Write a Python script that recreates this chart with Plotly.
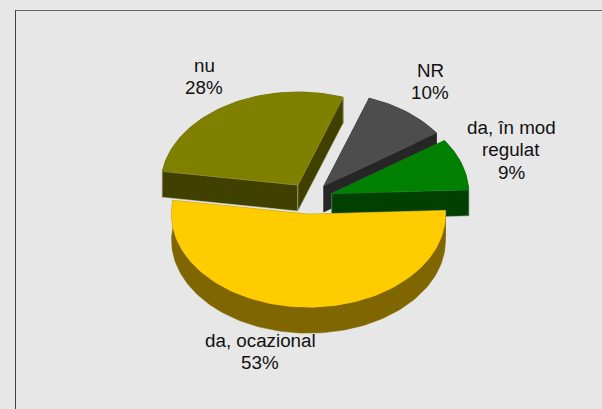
import math
import plotly.graph_objects as go

# Data, in drawing order round the pie (clockwise)
categories = ["nu", "NR", "da, în mod<br>regulat", "da, ocazional"]
percent = [28, 10, 9, 53]
top_colors = ["#808000", "#4D4D4D", "#008000", "#FFCC00"]
side_colors = ["#404000", "#262626", "#004000", "#806600"]
edge_colors = ["#C4C4A0", "#262626", "#6E8F6E", "#806600"]
label_x = [204, 430, 511, 260]
label_y = [65, 70, 127, 340]

# Pie geometry in pixels of the 602x409 page
W, H = 602, 409
CX, CY = 309.8, 198.5
RX, RY = 137.0, 93.0
DEPTH = 26
EXPLODE = 0.169
START_ANGLE = 171.5
LINE_STEP = 22.5
BG = "#E7E7E7"


def arc_points(a0, a1, cx, cy):
    n = max(4, int(abs(a1 - a0) / 1.5))
    out = []
    for i in range(n + 1):
        a = math.radians(a0 + (a1 - a0) * i / n)
        out.append((cx + RX * math.cos(a), cy - RY * math.sin(a)))
    return out


def polygon(fig, pts, color, line_color=None, **kw):
    closed = list(pts) + [pts[0]]
    fig.add_trace(go.Scatter(x=[p[0] for p in closed], y=[p[1] for p in closed],
                             mode="lines", fill="toself", fillcolor=color,
                             line=dict(color=line_color or color, width=0.5),
                             showlegend=False, **kw))


fig = go.Figure()
total = sum(percent)
angle = START_ANGLE
for cat, val, ct, cs, ce in zip(categories, percent, top_colors, side_colors, edge_colors):
    sweep = 360.0 * val / total
    a0, a1 = angle, angle - sweep
    angle = a1
    mid = math.radians((a0 + a1) / 2)
    cx = CX + EXPLODE * RX * math.cos(mid)
    cy = CY - EXPLODE * RY * math.sin(mid)
    arc = arc_points(a0, a1, cx, cy)
    shifted = [(x, y + DEPTH) for x, y in arc]
    # walls: outer rim and the two radial faces
    polygon(fig, arc + shifted[::-1], cs, hoverinfo="skip")
    for end in (arc[0], arc[-1]):
        polygon(fig, [(cx, cy), end, (end[0], end[1] + DEPTH), (cx, cy + DEPTH)], cs, ce, hoverinfo="skip")
    # top face
    polygon(fig, [(cx, cy)] + arc, ct, name=cat.replace("<br>", " "), text=f"{val}%", hoverinfo="name+text")

# Each label line is placed on its own so the line spacing matches the picture
annotations = []
for c, v, x, y in zip(categories, percent, label_x, label_y):
    for i, line in enumerate(c.split("<br>") + [f"{v}%"]):
        annotations.append(dict(x=x, y=y + i * LINE_STEP, xref="x", yref="y", text=line,
                                showarrow=False, xanchor="center", yanchor="middle",
                                font=dict(family="Liberation Sans, Arial, sans-serif",
                                          size=18.8, color="#111111")))

frame = [
    dict(type="line", xref="x", yref="y", x0=15.5, x1=W, y0=10.5, y1=10.5,
         line=dict(color="#666666", width=1)),
    dict(type="line", xref="x", yref="y", x0=15.5, x1=15.5, y0=10, y1=H,
         line=dict(color="#444444", width=1)),
]

fig.update_layout(
    width=W, height=H, autosize=False,
    margin=dict(l=0, r=0, t=0, b=0),
    paper_bgcolor=BG, plot_bgcolor=BG,
    xaxis=dict(range=[0, W], visible=False, fixedrange=True),
    yaxis=dict(range=[H, 0], visible=False, fixedrange=True),
    annotations=annotations, shapes=frame, showlegend=False,
)
fig.write_html("out.html", config=dict(displayModeBar=False, responsive=False),
               post_script="document.body.style.margin='0';document.body.style.background='%s';" % BG)
